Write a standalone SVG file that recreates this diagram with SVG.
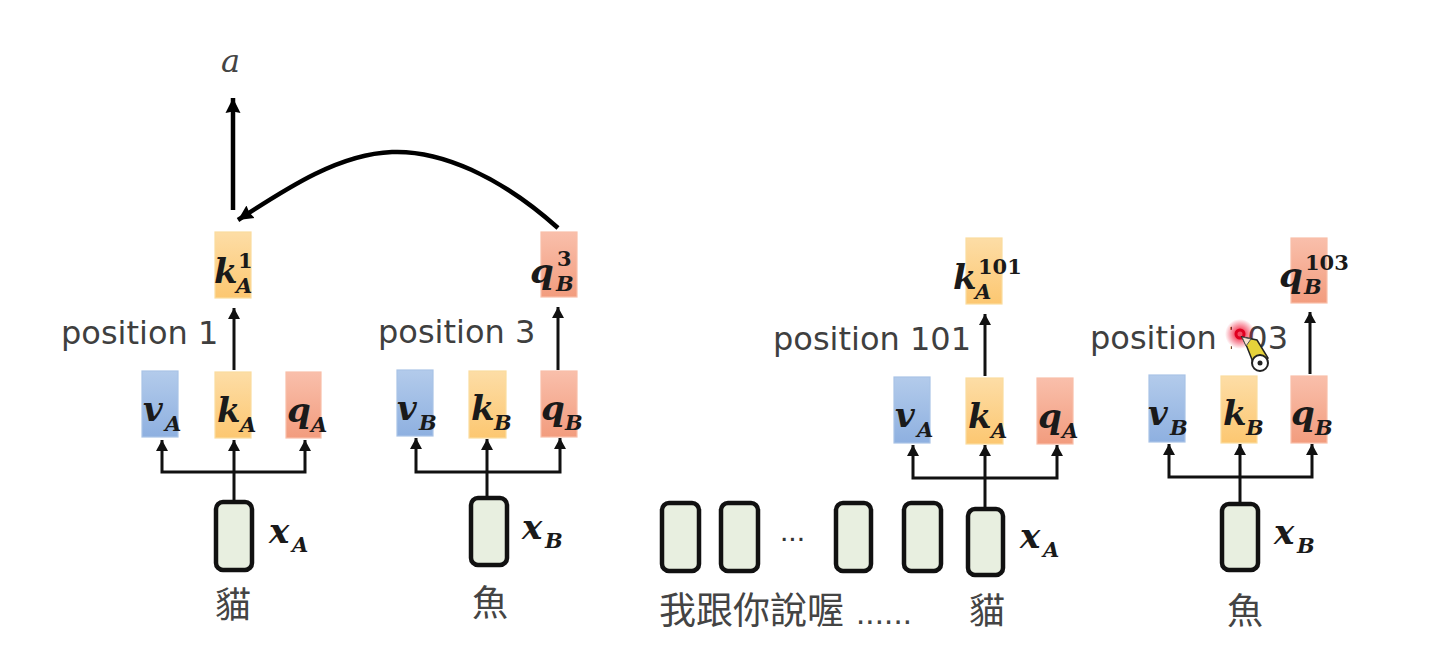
<svg xmlns="http://www.w3.org/2000/svg" width="1448" height="670" viewBox="0 0 1448 670">
<style>
.b{stroke-width:1.2}
.blue{fill:url(#gb);stroke:#a9c3e6}
.or{fill:url(#go);stroke:#fbdc9f}
.red{fill:url(#gr);stroke:#f8bfa9}
.x{fill:#e8efe0;stroke:#111;stroke-width:4.5}
.m{font-family:"DejaVu Serif","Liberation Serif",serif;font-weight:700;font-style:italic;fill:#1a1a1a;font-size:34px}
.s{font-size:21px}
.sup{font-style:normal;font-size:21px}
.p{font-family:"DejaVu Sans","Noto Sans",sans-serif;font-size:32px;fill:#3f3f3f}
.c{font-family:"Noto Sans CJK TC","Noto Sans",sans-serif;font-size:36px;fill:#444;text-anchor:middle}
.l{fill:none;stroke:#111;stroke-width:3}
.t{fill:none;stroke:#000;stroke-width:4.5}
</style>
<defs>
<linearGradient id="gb" x1="0" y1="0" x2="0" y2="1"><stop offset="0" stop-color="#b3cbeb"/><stop offset="1" stop-color="#8eb0e0"/></linearGradient>
<linearGradient id="go" x1="0" y1="0" x2="0" y2="1"><stop offset="0" stop-color="#fddda6"/><stop offset="1" stop-color="#fcc771"/></linearGradient>
<linearGradient id="gr" x1="0" y1="0" x2="0" y2="1"><stop offset="0" stop-color="#f9bfab"/><stop offset="1" stop-color="#f29c7e"/></linearGradient>
<radialGradient id="glow"><stop offset="0.3" stop-color="#f01030" stop-opacity=".75"/><stop offset="1" stop-color="#f01030" stop-opacity="0"/></radialGradient>
<marker id="ah" markerUnits="userSpaceOnUse" markerWidth="14" markerHeight="14" refX="11" refY="6.5" orient="auto"><path d="M0 0.5L11 6.5L0 12.5Z" fill="#111"/></marker>
<marker id="ahb" markerUnits="userSpaceOnUse" markerWidth="18" markerHeight="18" refX="15" refY="8" orient="auto"><path d="M0 0.5L15 8L0 15.5L1.5 8Z" fill="#000"/></marker>
</defs>
<rect width="1448" height="670" fill="#fff"/>

<g id="connectors">
<path class="t" d="M233 210V98" marker-end="url(#ahb)"/>
<path class="t" d="M558 228C500 176 440 150 392 152C340 154 290 186 238 220" marker-end="url(#ahb)"/>

<path class="l" d="M234 370V308" marker-end="url(#ah)"/>
<path class="l" d="M234 472H162V440" marker-end="url(#ah)"/>
<path class="l" d="M234 472H305V440" marker-end="url(#ah)"/>
<path class="l" d="M234 503V440" marker-end="url(#ah)"/>

<path class="l" d="M558 370V307" marker-end="url(#ah)"/>
<path class="l" d="M487 472H416V438" marker-end="url(#ah)"/>
<path class="l" d="M487 472H560V438" marker-end="url(#ah)"/>
<path class="l" d="M487 499V439" marker-end="url(#ah)"/>

<path class="l" d="M985 376V314" marker-end="url(#ah)"/>
<path class="l" d="M985 478H913V445" marker-end="url(#ah)"/>
<path class="l" d="M985 478H1057V445" marker-end="url(#ah)"/>
<path class="l" d="M985 510V445" marker-end="url(#ah)"/>

<path class="l" d="M1310 374V312" marker-end="url(#ah)"/>
<path class="l" d="M1240 477H1169V444" marker-end="url(#ah)"/>
<path class="l" d="M1240 477H1312V444" marker-end="url(#ah)"/>
<path class="l" d="M1240 505V444" marker-end="url(#ah)"/>
</g>

<g id="a"><text x="221" y="72" font-family="DejaVu Serif,serif" font-style="italic" font-size="32" fill="#444">a</text></g>

<g id="k1A"><rect class="b or" x="215" y="232" width="36" height="66"/><text class="m"><tspan x="214" y="283">k</tspan><tspan class="sup" x="238" y="268">1</tspan><tspan class="s" x="236" y="293">A</tspan></text></g>
<g id="q3B"><rect class="b red" x="541" y="232" width="36" height="65"/><text class="m"><tspan x="530" y="283">q</tspan><tspan class="sup" x="557" y="266">3</tspan><tspan class="s" x="556" y="291">B</tspan></text></g>
<g id="pos1"><text class="p" x="61" y="344">position 1</text></g>
<g id="pos3"><text class="p" x="378" y="343">position 3</text></g>
<g id="vA1"><rect class="b blue" x="142" y="371" width="36" height="66"/><text class="m"><tspan x="143" y="421">v</tspan><tspan class="s" x="165" y="431">A</tspan></text></g>
<g id="kA1"><rect class="b or" x="215" y="372" width="36" height="66"/><text class="m"><tspan x="217" y="422">k</tspan><tspan class="s" x="240" y="432">A</tspan></text></g>
<g id="qA1"><rect class="b red" x="286" y="372" width="35" height="66"/><text class="m"><tspan x="287" y="422">q</tspan><tspan class="s" x="311" y="432">A</tspan></text></g>
<g id="xA1"><rect class="x" x="216" y="502" width="36" height="68" rx="7"/><text class="m"><tspan x="269" y="543">x</tspan><tspan class="s" x="292" y="552">A</tspan></text></g>
<g id="cat1"><text class="c" x="233" y="618">貓</text></g>

<g id="vB1"><rect class="b blue" x="397" y="370" width="36" height="66"/><text class="m"><tspan x="397" y="420">v</tspan><tspan class="s" x="419" y="430">B</tspan></text></g>
<g id="kB1"><rect class="b or" x="469" y="371" width="37" height="67"/><text class="m"><tspan x="471" y="420">k</tspan><tspan class="s" x="494" y="430">B</tspan></text></g>
<g id="qB1"><rect class="b red" x="541" y="371" width="36" height="66"/><text class="m"><tspan x="541" y="420">q</tspan><tspan class="s" x="565" y="430">B</tspan></text></g>
<g id="xB1"><rect class="x" x="471" y="498" width="36" height="67" rx="7"/><text class="m"><tspan x="522" y="539">x</tspan><tspan class="s" x="545" y="548">B</tspan></text></g>
<g id="fish1"><text class="c" x="490" y="616">魚</text></g>

<g id="k101A"><rect class="b or" x="966" y="238" width="36" height="66"/><text class="m"><tspan x="953" y="289">k</tspan><tspan class="sup" x="978" y="274">101</tspan><tspan class="s" x="975" y="299">A</tspan></text></g>
<g id="q103B"><rect class="b red" x="1291" y="238" width="36" height="65"/><text class="m"><tspan x="1279" y="287">q</tspan><tspan class="sup" x="1305" y="270">103</tspan><tspan class="s" x="1304" y="294">B</tspan></text></g>
<g id="pos101"><text class="p" x="773" y="350">position 101</text></g>
<g id="pos103"><text class="p" x="1090" y="349">position 103</text></g>

<g id="vA2"><rect class="b blue" x="894" y="377" width="36" height="66"/><text class="m"><tspan x="895" y="427">v</tspan><tspan class="s" x="917" y="437">A</tspan></text></g>
<g id="kA2"><rect class="b or" x="966" y="378" width="37" height="66"/><text class="m"><tspan x="968" y="428">k</tspan><tspan class="s" x="991" y="438">A</tspan></text></g>
<g id="qA2"><rect class="b red" x="1037" y="378" width="36" height="66"/><text class="m"><tspan x="1038" y="428">q</tspan><tspan class="s" x="1062" y="438">A</tspan></text></g>
<g id="xA2"><rect class="x" x="968" y="509" width="35" height="66" rx="7"/><text class="m"><tspan x="1020" y="548">x</tspan><tspan class="s" x="1043" y="557">A</tspan></text></g>
<g id="cat2"><text class="c" x="987" y="624">貓</text></g>

<g id="vB2"><rect class="b blue" x="1149" y="375" width="36" height="67"/><text class="m"><tspan x="1148" y="425">v</tspan><tspan class="s" x="1170" y="435">B</tspan></text></g>
<g id="kB2"><rect class="b or" x="1221" y="376" width="36" height="67"/><text class="m"><tspan x="1223" y="425">k</tspan><tspan class="s" x="1246" y="435">B</tspan></text></g>
<g id="qB2"><rect class="b red" x="1291" y="376" width="36" height="67"/><text class="m"><tspan x="1291" y="425">q</tspan><tspan class="s" x="1315" y="435">B</tspan></text></g>
<g id="xB2"><rect class="x" x="1222" y="504" width="36" height="66" rx="7"/><text class="m"><tspan x="1274" y="544">x</tspan><tspan class="s" x="1297" y="553">B</tspan></text></g>
<g id="fish2"><text class="c" x="1245" y="624">魚</text></g>

<g id="t1"><rect class="x" x="662" y="503" width="37" height="68" rx="7"/></g>
<g id="t2"><rect class="x" x="721" y="503" width="37" height="68" rx="7"/></g>
<g id="t3"><rect class="x" x="836" y="503" width="35" height="68" rx="7"/></g>
<g id="t4"><rect class="x" x="904" y="503" width="37" height="68" rx="7"/></g>
<g id="dots"><text x="780" y="541" font-family="Liberation Sans,sans-serif" font-size="30" fill="#333">...</text></g>
<g id="sent"><text x="659" y="624" font-family="'Noto Sans CJK TC',sans-serif" font-size="37" fill="#444">我跟你說喔</text><text x="856" y="624" font-family="Liberation Sans,sans-serif" font-size="33" fill="#444" textLength="56">......</text></g>

<g id="cursor">
<rect x="1232" y="322" width="14" height="30" fill="#fff"/>
<circle cx="1240" cy="334" r="15" fill="url(#glow)"/>
<circle cx="1240" cy="334" r="4" fill="none" stroke="#e00020" stroke-width="3"/>
<path d="M1242 337L1257 340L1268 358L1255 367L1247 347Z" fill="#e6d23a" stroke="#222" stroke-width="1.5"/>
<path d="M1242 337L1251 339L1246 346Z" fill="#f6e4d0" stroke="#555"/>
<circle cx="1260" cy="363" r="8" fill="#fff" stroke="#222" stroke-width="2"/>
<circle cx="1260" cy="363" r="2.5" fill="#222"/>
</g>
</svg>
